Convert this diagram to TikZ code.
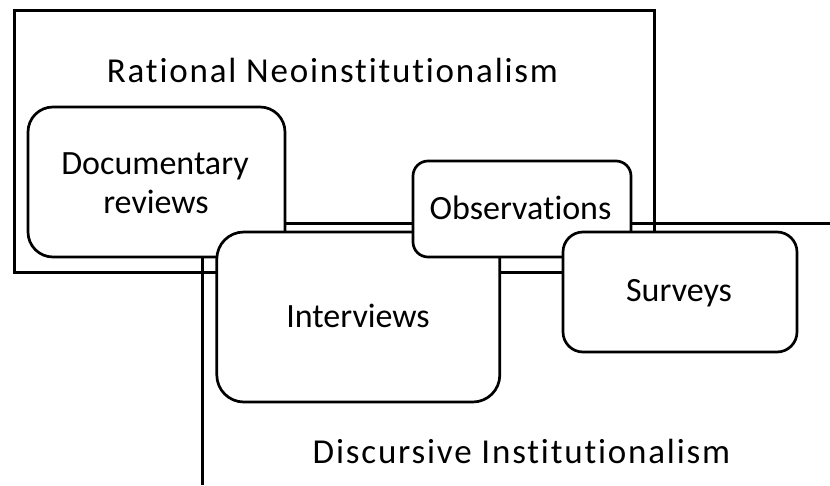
\documentclass[tikz,border=0pt]{standalone}
\usepackage{fontspec}
\setmainfont{Carlito}[Ligatures=NoCommon]
% the two framework titles are set with a little extra tracking
\newfontfamily\trackedfont{Carlito}[Ligatures=NoCommon, LetterSpace=5.2]
\begin{document}
\begin{tikzpicture}[x=1pt, y=-1pt,
  frame/.style={draw=black, line width=3pt, inner sep=0pt, outer sep=0pt},
  method/.style={draw=black, fill=white, line width=2.7pt, inner sep=0pt, outer sep=0pt},
  caption/.style={inner sep=0pt, anchor=base, font=\fontsize{34pt}{40pt}\selectfont},
  title/.style={caption, font=\trackedfont\fontsize{35pt}{42pt}\selectfont}
]
\useasboundingbox (0,0) rectangle (830,485);

% Discursive Institutionalism: open region running off the right and bottom
\coordinate (di-corner) at (202,223.5);
\coordinate (di-right) at (830,223.5);
\coordinate (di-bottom) at (202,485);
\draw[line width=3pt] (di-bottom) -- (di-corner) -- (di-right);

% Rational Neoinstitutionalism frame
\node[frame, minimum width=640pt, minimum height=262pt] (rn) at (334,141) {};

% Methods, later ones on top of earlier ones
\node[method, rounded corners=25pt, minimum width=257pt, minimum height=150pt] (doc) at (156.5,182) {};
\node[method, rounded corners=27pt, minimum width=283pt, minimum height=170pt] (int) at (358.3,317) {};
\node[method, rounded corners=15pt, minimum width=218pt, minimum height=96pt] (obs) at (522,209) {};
\node[method, rounded corners=20pt, minimum width=234pt, minimum height=120pt] (sur) at (680,292) {};

% Labels
\node[title] (rn-label) at (332.5,82) {Rational Neoinstitutionalism};
\node[title] (di-label) at (521.5,463) {Discursive Institutionalism};
\node[caption] (doc-label1) at (155,174) {Documentary};
\node[caption] (doc-label2) at (156,213) {reviews};
\node[caption] (int-label) at (358,327) {Interviews};
\node[caption] (obs-label) at (520.5,219.5) {Observations};
\node[caption] (sur-label) at (679,301) {Surveys};
\end{tikzpicture}
\end{document}
